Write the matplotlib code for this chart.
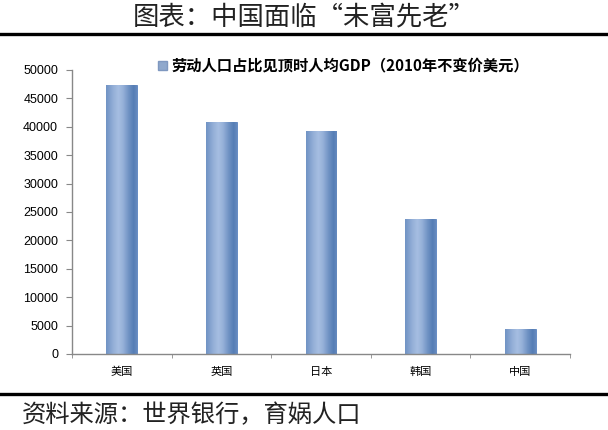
import numpy as np
import matplotlib
matplotlib.use("Agg")
import matplotlib.pyplot as plt
from matplotlib.lines import Line2D
from matplotlib.patches import Patch

plt.rcParams['font.family'] = ['Noto Sans CJK SC', 'DejaVu Sans']

countries = ["美国", "英国", "日本", "韩国", "中国"]
gdp_peak = [47400, 40800, 39300, 23700, 4400]
y_ticks = [0, 5000, 10000, 15000, 20000, 25000, 30000, 35000, 40000, 45000, 50000]

title = "图表：中国面临“未富先老”"
series_name = "劳动人口占比见顶时人均GDP（2010年不变价美元）"
source = "资料来源：世界银行，育娲人口"

W, H = 608, 430
fig = plt.figure(figsize=(W / 100, H / 100), dpi=100)
ax = fig.add_axes([72 / W, 1 - 354 / H, (570 - 72) / W, (354 - 70) / H])

x = np.arange(len(countries))
bars = ax.bar(x, gdp_peak, width=0.31, color="#6f95cc", edgecolor="#5a83bf",
              linewidth=0.6, label=series_name)

# cylinder-like shading on each bar
shade = np.array([0.0, 0.25, 0.4, 0.55, 0.75, 0.9, 1.0])
lum = np.array([0.62, 0.85, 0.95, 0.85, 0.6, 0.45, 0.55])
grad = np.interp(np.linspace(0, 1, 64), shade, lum)[None, :]
cmap = matplotlib.colors.LinearSegmentedColormap.from_list(
    "bar", ["#3d6aa8", "#aec4e6"])
for b in bars:
    x0, y0 = b.get_x(), b.get_y()
    im = ax.imshow(grad, cmap=cmap, vmin=0.3, vmax=1.0, aspect="auto",
                   extent=(x0, x0 + b.get_width(), y0, y0 + b.get_height()),
                   zorder=b.get_zorder() + 0.1)
    im.set_clip_path(b)

ax.set_xlim(-0.5, len(countries) - 0.5)
ax.set_ylim(0, 50000)
ax.set_yticks(y_ticks)
ax.set_yticklabels([str(v) for v in y_ticks], family="Liberation Sans", fontsize=9)
ax.set_xticks(x)
ax.set_xticklabels(countries, fontsize=8)
ax.set_xticks(np.arange(len(countries) + 1) - 0.5, minor=True)
ax.tick_params(axis="x", which="major", length=0, pad=9)
ax.tick_params(axis="x", which="minor", length=3, color="#888888", direction="out")
ax.tick_params(axis="y", length=4, color="#888888", pad=6)
for s in ["top", "right"]:
    ax.spines[s].set_visible(False)
for s in ["left", "bottom"]:
    ax.spines[s].set_color("#888888")
    ax.spines[s].set_linewidth(1.0)

leg = ax.legend(handles=[Patch(facecolor="#8fa8cc", edgecolor="#7f98c0", label=series_name)],
                loc="lower left", bbox_to_anchor=(80 / (570 - 72), 1.0 - 10 / 284),
                frameon=False, handlelength=0.6, handleheight=0.6, handletextpad=0.3,
                borderaxespad=0, prop={"weight": "bold", "size": 11})

fig.text(0.5, 1 - 17 / H, title, ha="center", va="center", fontsize=19,
         fontweight="light", color="#222222")
fig.add_artist(Line2D([0, 1], [1 - 34 / H, 1 - 34 / H], color="black", linewidth=2.4))
fig.add_artist(Line2D([0, 1], [1 - 394 / H, 1 - 394 / H], color="black", linewidth=2.4))
fig.text(22 / W, 1 - 415 / H, source, ha="left", va="center", fontsize=17.5,
         fontweight="light", color="#222222")

fig.savefig("out.png", dpi=100)
